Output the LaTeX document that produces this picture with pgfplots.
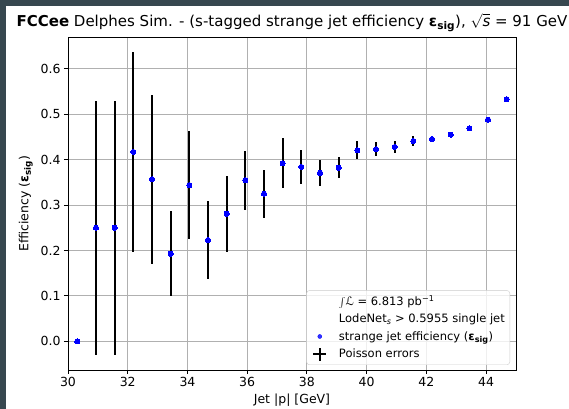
\documentclass[border=0pt]{standalone}
\usepackage{pgfplots}
\usepackage{pgfplotstable}
\pgfplotsset{compat=1.18}
\usepackage{fontspec}
\setmainfont{DejaVu Sans}
\definecolor{bgdark}{RGB}{55,71,79}
\definecolor{gridgray}{HTML}{B0B0B0}
\definecolor{leggray}{HTML}{CCCCCC}
\pgfplotstableread{
x y e
30.3125 0.000 0.000
30.9375 0.250 0.279
31.5625 0.250 0.279
32.1875 0.417 0.221
32.8125 0.357 0.186
33.4375 0.193 0.0935
34.0625 0.344 0.119
34.6875 0.223 0.086
35.3125 0.281 0.084
35.9375 0.355 0.065
36.5625 0.325 0.053
37.1875 0.392 0.055
37.8125 0.384 0.037
38.4375 0.371 0.028
39.0625 0.382 0.023
39.6875 0.421 0.020
40.3125 0.423 0.015
40.9375 0.428 0.013
41.5625 0.441 0.010
42.1875 0.4455 0.007
42.8125 0.455 0.005
43.4375 0.469 0.004
44.0625 0.488 0.003
44.6875 0.533 0.004
}\datatable
\begin{document}
\begin{tikzpicture}
\fill[bgdark] (0bp,0bp) rectangle (569bp,409bp);
\fill[white] (6bp,0bp) rectangle (569bp,403bp);
\begin{axis}[
  at={(68bp,39bp)}, anchor=south west,
  scale only axis, width=448bp, height=333bp,
  xmin=30, xmax=45, ymin=-0.063, ymax=0.670,
  xtick={30,32,34,36,38,40,42,44},
  ytick={0,0.1,0.2,0.3,0.4,0.5,0.6},
  yticklabel style={/pgf/number format/.cd, fixed, fixed zerofill, precision=1},
  /pgf/number format/assume math mode=true,
  tick label style={font=\fontsize{12.5bp}{14bp}\selectfont, black},
  xtick pos=bottom, ytick pos=left,
  tick align=outside,
  major tick length=4bp,
  tick style={black, line width=0.9bp},
  axis line style={black, line width=0.9bp},
  grid=major,
  major grid style={gridgray, line width=0.9bp},
  xlabel={Jet |p| [GeV]},
  ylabel={Efficiency ({\bfseries ε\textsubscript{sig}})},
  label style={font=\fontsize{12.5bp}{14bp}\selectfont},
  xlabel style={yshift=0bp},
  ylabel style={yshift=1bp},
  title={{\bfseries FCCee} Delphes Sim. - (s-tagged strange jet efficiency {\bfseries ε\textsubscript{sig}}), $\sqrt{\textit{s}}$ = 91 GeV},
  title style={font=\fontsize{15bp}{17bp}\selectfont, at={(0.5,1)}, anchor=south, yshift=-4bp},
  legend cell align=left,
  legend style={at={(1,0)}, anchor=south east, xshift=-6bp, yshift=5bp,
    draw=leggray, rounded corners=3bp, fill=white, fill opacity=0.8, text opacity=1,
    font=\fontsize{11.5bp}{13bp}\selectfont, row sep=3bp, inner sep=3bp,
    nodes={inner sep=2bp}},
]
\addlegendimage{legend image code/.code={\path (0bp,0bp) (27bp,0bp);}}
\addlegendentry{$\int$ℒ = 6.813 pb\textsuperscript{−1}}
\addlegendimage{legend image code/.code={\path (0bp,0bp) (27bp,0bp);}}
\addlegendentry{LodeNet\textsubscript{\itshape s} > 0.5955 single jet}
\addplot[only marks, mark=none, forget plot,
  error bars/.cd, y dir=both, y explicit, error mark=none,
  error bar style={black, line width=2.2bp}]
  table[x=x, y=y, y error=e] {\datatable};
\addplot[only marks, mark=*, mark size=2.6bp, blue, mark options={draw=blue, fill=blue, line width=0pt},
  legend image code/.code={\path (0bp,0bp) (27bp,0bp); \fill[blue] (10bp,0bp) circle (2bp);}]
  table[x=x, y=y] {\datatable};
\addlegendentry{strange jet efficiency ({\bfseries ε\textsubscript{sig}})}
\addlegendimage{legend image code/.code={\path (0bp,0bp) (27bp,0bp); \draw[black, line width=2.2bp] (3.5bp,0bp)--(16.5bp,0bp) (10bp,-6.5bp)--(10bp,6.5bp);}}
\addlegendentry{Poisson errors}
\end{axis}
\pgfresetboundingbox
\useasboundingbox (0bp,0bp) rectangle (569bp,409bp);
\end{tikzpicture}
\end{document}
